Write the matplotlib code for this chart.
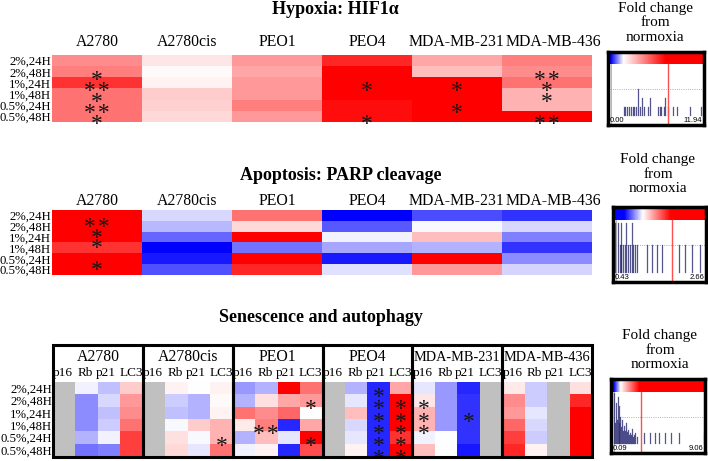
import numpy as np
import matplotlib
matplotlib.use('Agg')
import matplotlib.pyplot as plt
from matplotlib.colors import LinearSegmentedColormap
from matplotlib.patches import Rectangle
from matplotlib.transforms import ScaledTranslation

plt.rcParams['font.family'] = ['Liberation Serif', 'DejaVu Serif']

rows = ['2%,24H', '2%,48H', '1%,24H', '1%,48H', '0.5%,24H', '0.5%,48H']
cells = ['A2780', 'A2780cis', 'PEO1', 'PEO4', 'MDA-MB-231', 'MDA-MB-436']
markers = ['p16', 'Rb', 'p21', 'LC3']

# colour score per cell line (one list per line, rows in the order above)
# -1 = full blue, 0 = white, 1 = full red, nan = grey (not measured)
hif1a = [
    [0.45, 0.50, 0.80, 0.55, 0.55, 0.55],
    [0.10, 0.02, 0.05, 0.20, 0.18, 0.15],
    [0.40, 0.35, 0.40, 0.40, 0.50, 0.40],
    [0.85, 1.00, 1.00, 1.00, 0.95, 0.95],
    [0.35, 0.25, 1.00, 1.00, 1.00, 1.00],
    [0.50, 0.45, 0.55, 0.30, 0.30, 1.00],
]
parp = [
    [1.00, 1.00, 1.00, 0.80, 1.00, 1.00],
    [-0.15, -0.28, -0.60, -1.00, -0.90, -0.68],
    [0.55, 0.15, 1.00, -0.55, 1.00, 0.85],
    [-1.00, -0.65, -0.05, -0.35, -0.90, -0.12],
    [-0.70, -0.03, 0.25, -0.30, 1.00, 0.40],
    [-0.80, -0.15, -0.50, -0.80, -0.45, -0.17],
]
nan = np.nan
senescence = {
    'A2780': [[nan] * 6,
              [-0.05, -0.45, -0.45, -0.45, -0.30, -0.55],
              [-0.25, -0.15, -0.25, -0.20, -0.05, -0.50],
              [0.20, 0.40, 0.45, 0.55, 0.75, 0.75]],
    'A2780cis': [[nan] * 6,
                 [0.05, -0.20, -0.25, -0.03, 0.12, 0.15],
                 [0.00, -0.30, -0.30, 0.20, -0.03, -0.10],
                 [0.05, 0.02, 0.05, 0.30, 0.30, 0.55]],
    'PEO1': [[-0.40, -0.30, 0.55, 0.08, -0.30, -0.05],
             [-0.30, 0.12, 0.45, 0.50, 0.25, 0.05],
             [1.00, 0.35, 0.60, -0.85, -0.10, -0.85],
             [0.55, 0.40, 0.00, 0.35, 1.00, 0.70]],
    'PEO4': [[nan] * 6,
             [-0.30, -0.10, 0.25, -0.15, -0.10, 0.05],
             [-0.85, -0.85, -0.85, -0.85, -0.85, -0.85],
             [0.35, 1.00, 1.00, 1.00, 0.80, 1.00]],
    'MDA-MB-231': [[-0.10, 0.10, 0.30, 0.30, -0.05, 0.25],
                   [-0.40, -0.40, -0.40, -0.40, 0.00, 0.00],
                   [-0.85, -0.80, -0.80, -0.80, -0.80, -0.90],
                   [nan] * 6],
    'MDA-MB-436': [[0.08, 0.45, 0.40, 0.60, 0.75, 0.85],
                   [-0.20, -0.20, -0.10, -0.15, -0.20, 0.05],
                   [nan] * 6,
                   [0.12, 0.85, 1.00, 1.00, 1.00, 1.00]],
}

# significance marks: (column, row, text)
hif1a_stars = [(0, 1, '*'), (0, 2, '**'), (0, 3, '*'), (0, 4, '**'), (0, 5, '*'),
               (3, 2, '*'), (3, 5, '*'), (4, 2, '*'), (4, 4, '*'),
               (5, 1, '**'), (5, 2, '*'), (5, 3, '*'), (5, 5, '**')]
parp_stars = [(0, 0, '**'), (0, 1, '*'), (0, 2, '*'), (0, 4, '*')]
sen_stars = [(7, 4, '*'), (11, 1, '*'), (9, 3, '**'), (11, 4, '*'),
             (14, 0, '*'), (14, 1, '*'), (14, 2, '*'), (14, 3, '*'), (14, 4, '*'), (14, 5, '*'),
             (15, 1, '*'), (15, 2, '*'), (15, 3, '*'), (15, 4, '*'), (15, 5, '*'),
             (16, 1, '*'), (16, 2, '*'), (16, 3, '*'), (18, 2, '*')]

# fold-change scale insets: range labels, red line, histogram sticks (x, top)
scale_ranges = [('0.00', '11.94'), ('0.43', '2.66'), ('0.09', '9.06')]
scale_redline = [0.62, 0.63, 0.32]
scale_stops = [(0.03, 0.16, 0.60), (0.12, 0.32, 0.62), (0.03, 0.10, 0.30)]
hist1 = [(0.163, 0.25), (0.181, 0.25), (0.20, 0.25), (0.219, 0.25), (0.237, 0.25),
         (0.256, 0.25), (0.274, 0.25), (0.293, 0.25), (0.315, 0.49), (0.333, 0.25),
         (0.352, 0.37), (0.378, 0.25), (0.415, 0.25), (0.433, 0.37), (0.519, 0.25),
         (0.537, 0.25), (0.556, 0.25), (0.581, 0.25), (0.593, 0.37), (0.63, 0.25),
         (0.674, 0.25), (0.719, 0.25), (0.859, 0.25), (0.97, 0.25)]
hist2 = [(0.02, 0.79), (0.05, 0.79), (0.086, 0.79), (0.143, 0.79), (0.204, 0.79),
         (0.07, 0.49), (0.09, 0.49), (0.11, 0.49), (0.13, 0.49), (0.16, 0.49),
         (0.18, 0.49), (0.22, 0.49), (0.24, 0.49), (0.26, 0.49),
         (0.367, 0.49), (0.42, 0.49), (0.478, 0.49), (0.53, 0.49), (0.714, 0.49),
         (0.776, 0.49), (0.845, 0.49), (0.939, 0.49)]
hist3 = [(0.03, 0.81), (0.05, 0.68), (0.07, 0.76), (0.085, 0.63), (0.10, 0.49),
         (0.12, 0.45), (0.14, 0.36), (0.16, 0.40), (0.18, 0.31), (0.20, 0.27),
         (0.22, 0.33), (0.24, 0.25), (0.26, 0.27), (0.28, 0.22),
         (0.04, 0.40), (0.06, 0.45), (0.09, 0.40), (0.11, 0.35), (0.13, 0.30),
         (0.15, 0.30), (0.17, 0.28), (0.19, 0.25), (0.21, 0.24), (0.23, 0.22),
         (0.35, 0.27), (0.41, 0.27), (0.465, 0.27), (0.51, 0.27), (0.576, 0.27),
         (0.64, 0.27), (0.72, 0.27), (0.99, 0.27)]
hists = [hist1, hist2, hist3]

W, H = 708, 461


def px(x0, y0, x1, y1):
    return [x0 / W, 1 - y1 / H, (x1 - x0) / W, (y1 - y0) / H]


cmap = LinearSegmentedColormap.from_list('bwr2', ['#0000ff', '#ffffff', '#ff0000'])
cmap.set_bad('#c0c0c0')

fig = plt.figure(figsize=(7.08, 4.61), dpi=100, facecolor='white')


def heat(rect, data, stars, star_dy):
    ax = fig.add_axes(rect)
    arr = np.ma.masked_invalid(np.array(data, dtype=float))
    ax.pcolormesh(arr, cmap=cmap, vmin=-1, vmax=1)
    ax.set_xlim(0, arr.shape[1])
    ax.set_ylim(arr.shape[0], 0)
    ax.set_yticks(np.arange(len(rows)) + 0.5, rows, fontsize=9.2)
    ax.tick_params(length=0, pad=0.8)
    for s in ax.spines.values():
        s.set_visible(False)
    for c, r, t in stars:
        ax.text(c + 0.5, r + 0.5 + star_dy, '\u200a'.join(t), ha='center', va='center',
                fontsize=17, color='#151515')
    return ax


def top_labels(ax, pad):
    ax.xaxis.tick_top()
    ax.set_xticks(np.arange(6) + 0.5, cells, fontsize=11.3)
    ax.tick_params(axis='x', pad=pad)
    last = ax.get_xticklabels()[-1]
    last.set_transform(last.get_transform() + ScaledTranslation(0.06, 0, fig.dpi_scale_trans))


# Hypoxia panel
fig.text(335 / W, 1 - 9 / H, 'Hypoxia: HIF1α', ha='center', va='center',
         fontsize=13, fontweight='bold')
ax1 = heat(px(52, 55, 592, 122), np.array(hif1a).T, hif1a_stars, 0.75)
top_labels(ax1, 3.5)

# Apoptosis panel
fig.text(341 / W, 1 - 175 / H, 'Apoptosis: PARP cleavage', ha='center', va='center',
         fontsize=13, fontweight='bold')
ax2 = heat(px(52, 210, 592, 275), np.array(parp).T, parp_stars, 1.1)
top_labels(ax2, 0.8)

# Senescence panel
fig.text(321 / W, 1 - 318 / H, 'Senescence and autophagy', ha='center', va='center',
         fontsize=13, fontweight='bold')
sen = np.hstack([np.array(senescence[c]).T for c in cells])
ax3 = heat(px(53, 382, 592, 456), sen, sen_stars, 0.76)
ax3.set_xticks([])

axb = fig.add_axes(px(53, 345, 592, 457))
axb.set_xlim(0, 24)
axb.set_ylim(0, 1)
axb.axis('off')
sub_x = [0.45, 1.45, 2.35, 3.48]
for k, c in enumerate(cells):
    axb.add_patch(Rectangle((4 * k, 0), 4, 1, fill=False, lw=2.2, ec='black', clip_on=False))
    axb.text(4 * k + 2, 0.89, c, ha='center', va='center',
             fontsize=10.3 if c.startswith('MDA') else 11.3)
    for m, name in enumerate(markers):
        axb.text(4 * k + sub_x[m], 0.75, name, ha='center', va='center', fontsize=9.5)

# fold change insets
inset_rects = [px(608, 52, 704, 125), px(613, 207, 706, 282), px(611, 379, 705, 453)]
title_pos = [(655, 23), (658, 174), (660, 350)]
for i in range(3):
    tx, ty = title_pos[i]
    fig.text(tx / W, 1 - ty / H, 'Fold change\nfrom\nnormoxia', ha='center', va='center',
             fontsize=11, linespacing=1.15)
    ax = fig.add_axes(inset_rects[i])
    ax.set_xlim(0, 1)
    ax.set_ylim(0, 1)
    ax.set_xticks([])
    ax.set_yticks([])
    for s in ax.spines.values():
        s.set_linewidth(2.5)
    b, w, r = scale_stops[i]
    gcm = LinearSegmentedColormap.from_list(
        'g%d' % i, [(0, '#0000ff'), (b, '#0000ff'), (w, '#ffffff'), (r, '#ff0000'), (1, '#ff0000')])
    ax.imshow(np.linspace(0, 1, 256)[None, :], cmap=gcm, aspect='auto',
              extent=(0, 1, 0.83, 1.0))
    ax.axhline(0.49, color='#999999', lw=0.6, ls=':')
    ax.axvline(0.985, ymax=0.83, color='#999999', lw=0.6, ls=':')
    ax.axvline(0.03, ymax=0.83, color='#aaaaaa', lw=0.6)
    base = 0.14
    for x, top in hists[i]:
        ax.plot([x, x], [base, top], color='#2a2a72', lw=0.9, alpha=0.8)
    ax.axvline(scale_redline[i], ymax=0.83, color='#ff5050', lw=1.0)
    lo, hi = scale_ranges[i]
    ax.text(0.02, 0.06, lo, ha='left', va='center', fontsize=5.5, family='Liberation Sans')
    ax.text(0.98, 0.06, hi, ha='right', va='center', fontsize=5.5, family='Liberation Sans')

fig.savefig('out.png', dpi=100)
